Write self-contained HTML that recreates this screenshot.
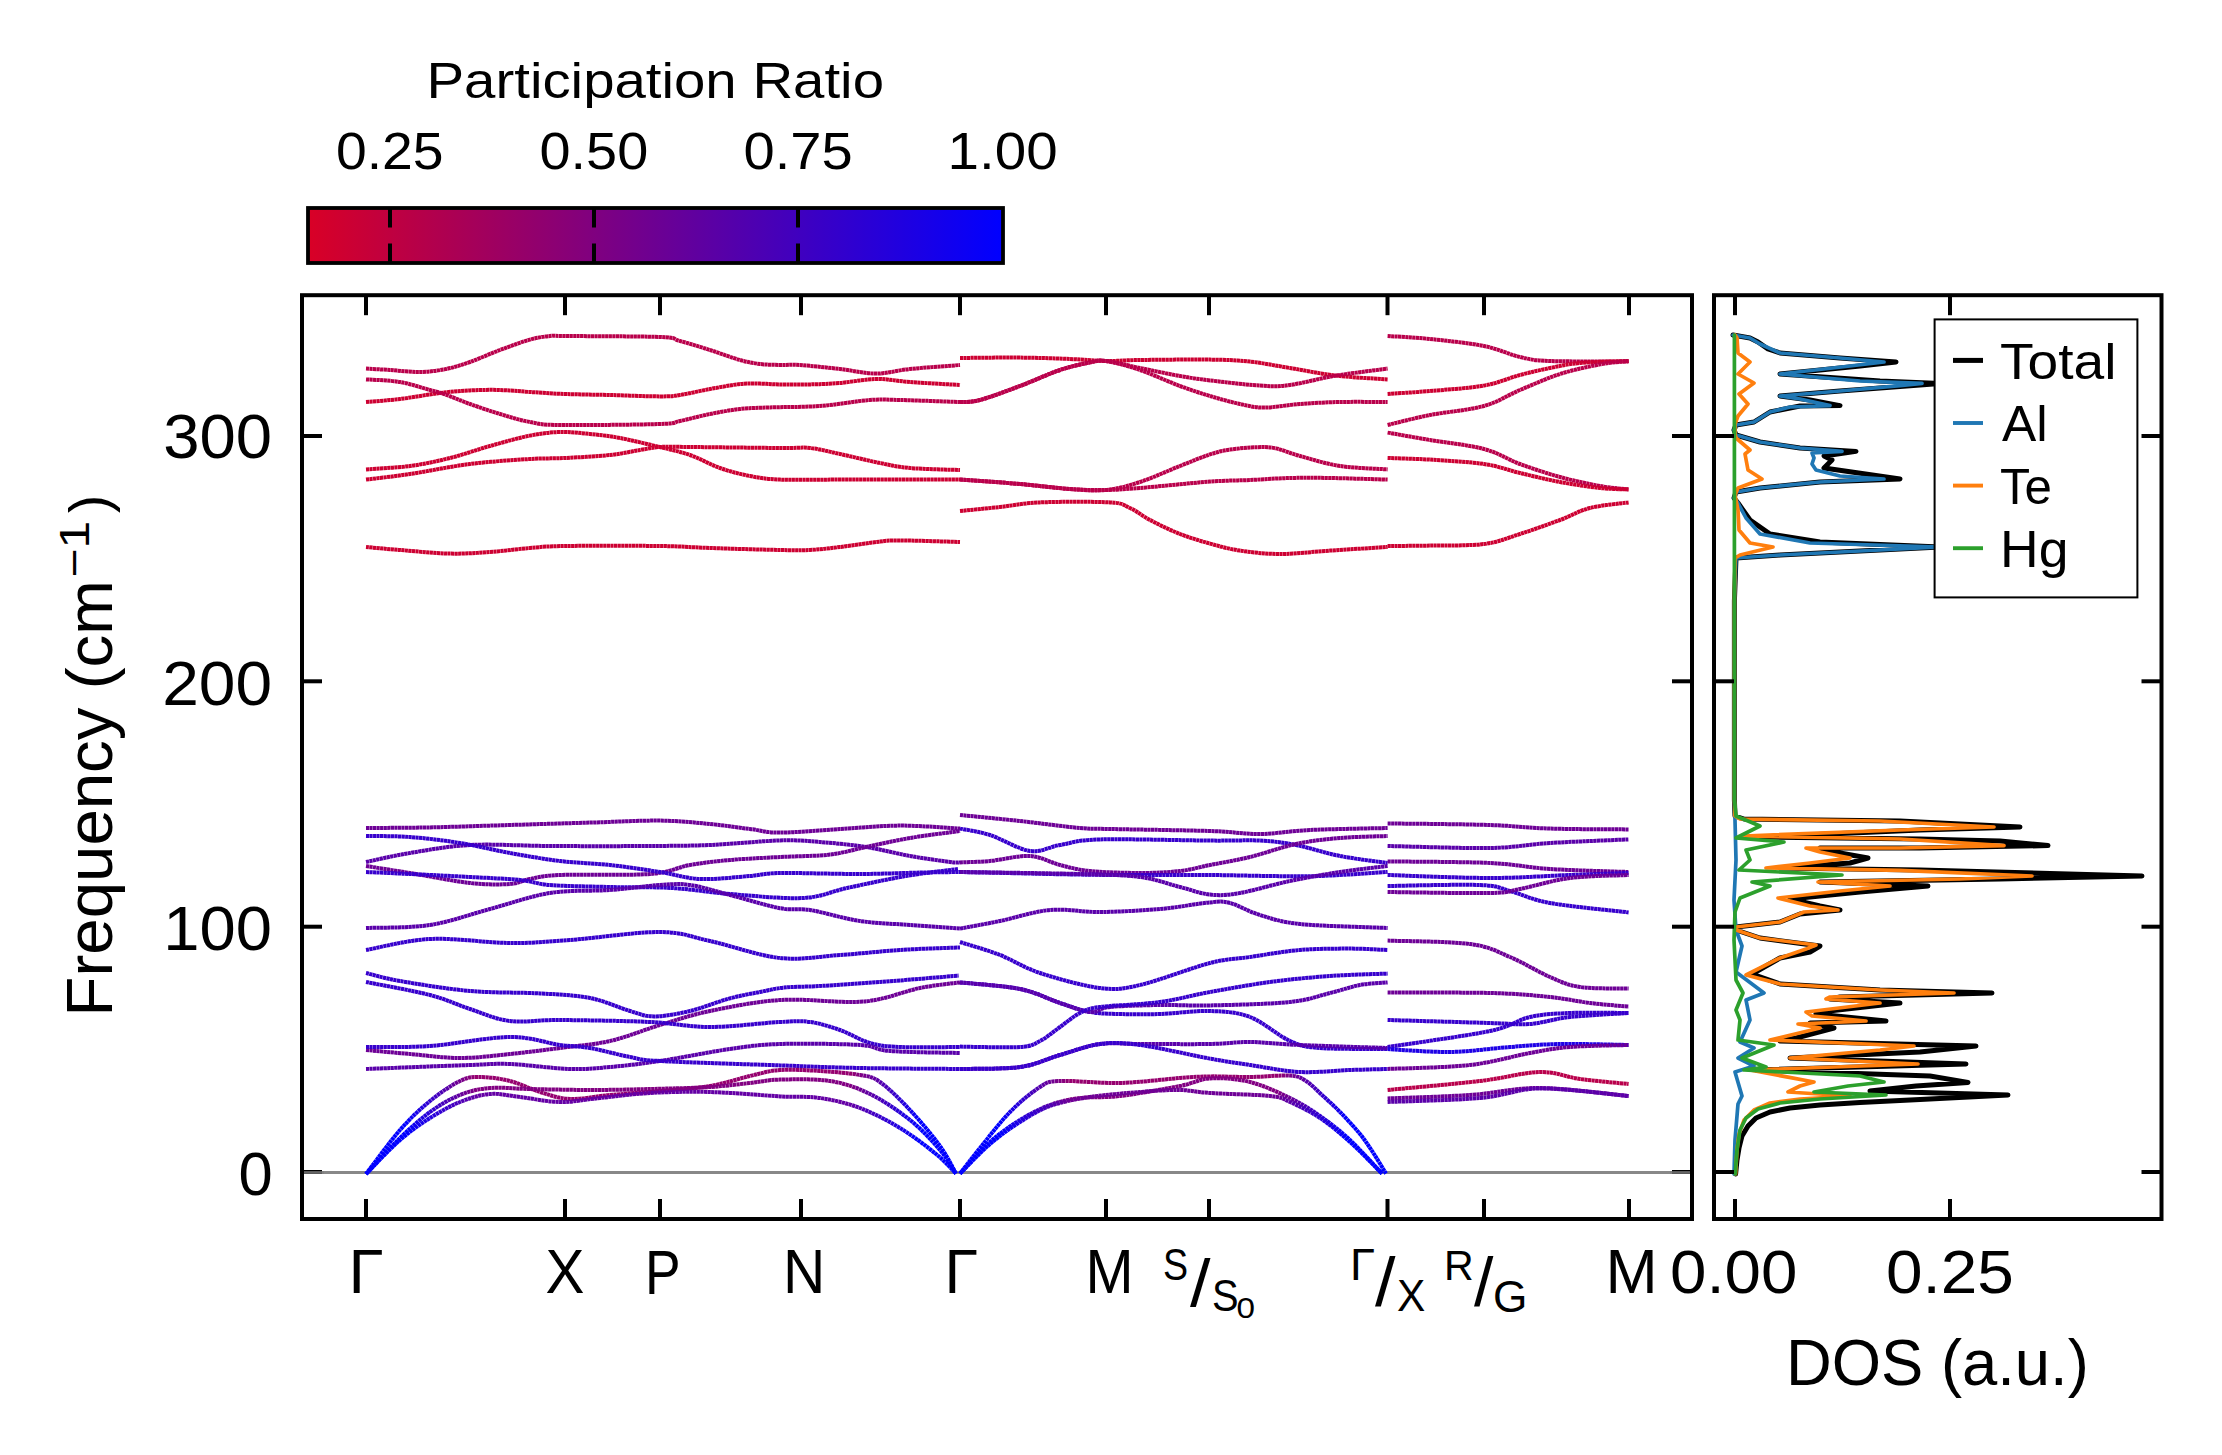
<!DOCTYPE html><html><head><meta charset="utf-8"><style>html,body{margin:0;padding:0;background:#fff;width:2222px;height:1455px;overflow:hidden}svg{display:block}</style></head><body>
<svg width="2222" height="1455" viewBox="0 0 2222 1455" font-family='"Liberation Sans", sans-serif'>
<defs><linearGradient id="cb" x1="0" x2="1" y1="0" y2="0"><stop offset="0" stop-color="#d90026"/><stop offset="1" stop-color="#0000ff"/></linearGradient><clipPath id="clipm"><rect x="302" y="295.2" width="1390" height="923.8"/></clipPath></defs>
<rect x="0" y="0" width="2222" height="1455" fill="#fff"/>
<rect x="308" y="208" width="695" height="55" fill="url(#cb)" stroke="#000" stroke-width="3.8"/>
<line x1="390.0" y1="208" x2="390.0" y2="227.5" stroke="#000" stroke-width="4"/>
<line x1="390.0" y1="243.5" x2="390.0" y2="263" stroke="#000" stroke-width="4"/>
<line x1="594.0" y1="208" x2="594.0" y2="227.5" stroke="#000" stroke-width="4"/>
<line x1="594.0" y1="243.5" x2="594.0" y2="263" stroke="#000" stroke-width="4"/>
<line x1="798.0" y1="208" x2="798.0" y2="227.5" stroke="#000" stroke-width="4"/>
<line x1="798.0" y1="243.5" x2="798.0" y2="263" stroke="#000" stroke-width="4"/>
<g clip-path="url(#clipm)">
<line x1="302" y1="1172.5" x2="1692" y2="1172.5" stroke="#888" stroke-width="3"/>
<path d="M366.0 368.6 C370.0 368.8 381.0 369.4 390.0 370.0 C399.0 370.6 410.7 372.2 420.0 372.0 C429.3 371.8 437.7 370.7 446.0 369.0 C454.3 367.3 461.0 365.2 470.0 362.0 C479.0 358.8 490.0 353.7 500.0 350.0 C510.0 346.3 521.7 341.9 530.0 339.6 C538.3 337.3 544.2 336.6 550.0 336.0 C555.8 335.4 546.7 335.8 565.0 336.0 C583.3 336.2 640.8 336.2 660.0 337.0 C679.2 337.8 671.7 338.8 680.0 341.0 C688.3 343.2 700.0 346.8 710.0 350.0 C720.0 353.2 731.7 357.7 740.0 360.0 C748.3 362.3 753.3 363.2 760.0 364.0 C766.7 364.8 773.3 364.8 780.0 365.0 C786.7 365.2 790.0 364.3 800.0 365.0 C810.0 365.7 827.3 367.6 840.0 369.0 C852.7 370.4 864.3 373.6 876.0 373.6 C887.7 373.6 896.0 370.4 910.0 369.0 C924.0 367.6 951.7 365.7 960.0 365.0" fill="none" stroke="rgb(185,0,75)" stroke-width="4" stroke-linecap="butt" stroke-linejoin="round" stroke-dasharray="3.2 0.35"/>
<path d="M366.0 402.0 C371.7 401.5 387.7 400.5 400.0 399.0 C412.3 397.5 428.3 394.4 440.0 393.0 C451.7 391.6 460.0 390.9 470.0 390.4 C480.0 389.9 490.0 389.7 500.0 390.0 C510.0 390.3 519.2 391.3 530.0 392.0 C540.8 392.7 551.7 393.5 565.0 394.0 C578.3 394.5 594.2 394.6 610.0 395.0 C625.8 395.4 648.3 396.4 660.0 396.4 C671.7 396.4 671.7 396.2 680.0 395.0 C688.3 393.8 700.0 390.8 710.0 389.0 C720.0 387.2 731.7 384.9 740.0 384.0 C748.3 383.1 753.3 383.5 760.0 383.6 C766.7 383.7 771.7 384.3 780.0 384.4 C788.3 384.5 800.0 384.6 810.0 384.4 C820.0 384.2 829.0 383.9 840.0 383.0 C851.0 382.1 864.3 379.2 876.0 379.0 C887.7 378.8 896.0 381.0 910.0 382.0 C924.0 383.0 951.7 384.5 960.0 385.0" fill="none" stroke="rgb(205,0,50)" stroke-width="4" stroke-linecap="butt" stroke-linejoin="round" stroke-dasharray="3.2 0.35"/>
<path d="M366.0 379.4 C371.7 379.8 389.3 380.2 400.0 382.0 C410.7 383.8 422.7 388.0 430.0 390.0 C437.3 392.0 437.3 391.7 444.0 394.0 C450.7 396.3 460.7 400.7 470.0 404.0 C479.3 407.3 490.0 411.0 500.0 414.0 C510.0 417.0 520.0 420.2 530.0 422.0 C540.0 423.8 538.3 424.7 560.0 425.0 C581.7 425.3 640.0 424.7 660.0 424.0 C680.0 423.3 671.7 422.7 680.0 421.0 C688.3 419.3 700.0 416.0 710.0 414.0 C720.0 412.0 730.0 410.1 740.0 409.0 C750.0 407.9 756.7 407.9 770.0 407.4 C783.3 406.9 803.3 407.2 820.0 406.0 C836.7 404.8 856.7 401.0 870.0 400.0 C883.3 399.0 885.0 399.7 900.0 400.0 C915.0 400.3 950.0 401.7 960.0 402.0" fill="none" stroke="rgb(185,0,75)" stroke-width="4" stroke-linecap="butt" stroke-linejoin="round" stroke-dasharray="3.2 0.35"/>
<path d="M366.0 469.4 C373.3 468.8 396.0 467.9 410.0 466.0 C424.0 464.1 436.7 461.3 450.0 458.0 C463.3 454.7 476.7 449.7 490.0 446.0 C503.3 442.3 518.3 437.9 530.0 435.6 C541.7 433.3 550.0 432.3 560.0 432.0 C570.0 431.7 580.0 433.0 590.0 434.0 C600.0 435.0 608.4 435.8 620.0 438.0 C631.6 440.2 647.9 444.2 659.6 447.0 C671.3 449.8 679.9 451.5 690.0 455.0 C700.1 458.5 710.0 464.5 720.0 468.0 C730.0 471.5 740.0 474.1 750.0 476.0 C760.0 477.9 765.0 479.0 780.0 479.6 C795.0 480.2 810.0 479.6 840.0 479.6 C870.0 479.6 940.0 479.6 960.0 479.6" fill="none" stroke="rgb(205,0,50)" stroke-width="4" stroke-linecap="butt" stroke-linejoin="round" stroke-dasharray="3.2 0.35"/>
<path d="M366.0 479.6 C373.3 478.7 392.7 476.6 410.0 474.0 C427.3 471.4 450.0 466.5 470.0 464.0 C490.0 461.5 514.2 460.0 530.0 459.0 C545.8 458.0 551.7 458.7 565.0 458.0 C578.3 457.3 597.5 456.3 610.0 455.0 C622.5 453.7 631.7 451.3 640.0 450.0 C648.3 448.7 651.3 447.5 659.6 447.0 C667.9 446.5 669.9 446.8 690.0 447.0 C710.1 447.2 760.0 447.8 780.0 448.0 C800.0 448.2 800.0 447.0 810.0 448.0 C820.0 449.0 828.3 451.5 840.0 454.0 C851.7 456.5 868.3 460.7 880.0 463.0 C891.7 465.3 896.7 466.8 910.0 468.0 C923.3 469.2 951.7 469.7 960.0 470.0" fill="none" stroke="rgb(205,0,50)" stroke-width="4" stroke-linecap="butt" stroke-linejoin="round" stroke-dasharray="3.2 0.35"/>
<path d="M366.0 547.0 C371.7 547.5 386.0 548.9 400.0 550.0 C414.0 551.1 435.0 553.3 450.0 553.6 C465.0 553.9 476.7 552.9 490.0 552.0 C503.3 551.1 517.5 549.0 530.0 548.0 C542.5 547.0 543.4 546.3 565.0 546.0 C586.6 545.7 635.4 545.7 659.6 546.0 C683.8 546.3 689.9 547.3 710.0 548.0 C730.1 548.7 763.3 549.7 780.0 550.0 C796.7 550.3 800.0 550.5 810.0 550.0 C820.0 549.5 828.3 548.4 840.0 547.0 C851.7 545.6 870.0 542.7 880.0 541.6 C890.0 540.5 886.7 540.3 900.0 540.4 C913.3 540.5 950.0 541.7 960.0 542.0" fill="none" stroke="rgb(205,0,50)" stroke-width="4" stroke-linecap="butt" stroke-linejoin="round" stroke-dasharray="3.2 0.35"/>
<path d="M960.0 358.0 C970.0 357.9 1001.7 357.4 1020.0 357.6 C1038.3 357.8 1055.7 358.4 1070.0 359.0 C1084.3 359.6 1094.3 360.8 1106.0 361.0 C1117.7 361.2 1122.7 360.2 1140.0 360.0 C1157.3 359.8 1191.7 359.3 1210.0 359.6 C1228.3 359.9 1236.7 360.2 1250.0 361.6 C1263.3 363.0 1275.7 365.7 1290.0 368.0 C1304.3 370.3 1319.7 373.7 1336.0 375.6 C1352.3 377.5 1379.0 378.8 1387.6 379.4" fill="none" stroke="rgb(205,0,50)" stroke-width="4" stroke-linecap="butt" stroke-linejoin="round" stroke-dasharray="3.2 0.35"/>
<path d="M960.0 402.0 C963.3 401.7 970.0 402.7 980.0 400.0 C990.0 397.3 1006.7 391.0 1020.0 386.0 C1033.3 381.0 1048.3 373.9 1060.0 370.0 C1071.7 366.1 1082.3 363.9 1090.0 362.4 C1097.7 360.9 1097.7 360.1 1106.0 361.0 C1114.3 361.9 1127.7 365.5 1140.0 368.0 C1152.3 370.5 1168.3 373.9 1180.0 376.0 C1191.7 378.1 1196.7 378.8 1210.0 380.4 C1223.3 382.0 1246.7 384.8 1260.0 385.6 C1273.3 386.4 1277.3 386.7 1290.0 385.0 C1302.7 383.3 1319.7 378.3 1336.0 375.6 C1352.3 372.9 1379.0 369.8 1387.6 368.6" fill="none" stroke="rgb(185,0,75)" stroke-width="4" stroke-linecap="butt" stroke-linejoin="round" stroke-dasharray="3.2 0.35"/>
<path d="M960.0 402.0 C963.3 401.7 970.0 402.7 980.0 400.0 C990.0 397.3 1006.7 391.0 1020.0 386.0 C1033.3 381.0 1048.3 373.9 1060.0 370.0 C1071.7 366.1 1082.3 363.9 1090.0 362.4 C1097.7 360.9 1097.7 359.7 1106.0 361.0 C1114.3 362.3 1127.7 365.8 1140.0 370.0 C1152.3 374.2 1168.3 381.7 1180.0 386.0 C1191.7 390.3 1200.0 393.0 1210.0 396.0 C1220.0 399.0 1231.0 402.1 1240.0 404.0 C1249.0 405.9 1254.0 407.6 1264.0 407.6 C1274.0 407.6 1287.3 404.9 1300.0 404.0 C1312.7 403.1 1325.4 402.3 1340.0 402.0 C1354.6 401.7 1379.7 402.0 1387.6 402.0" fill="none" stroke="rgb(185,0,75)" stroke-width="4" stroke-linecap="butt" stroke-linejoin="round" stroke-dasharray="3.2 0.35"/>
<path d="M960.0 479.6 C970.0 480.3 1001.7 482.4 1020.0 484.0 C1038.3 485.6 1055.7 488.0 1070.0 489.0 C1084.3 490.0 1094.3 491.2 1106.0 490.0 C1117.7 488.8 1127.7 486.0 1140.0 482.0 C1152.3 478.0 1168.3 470.6 1180.0 466.0 C1191.7 461.4 1201.7 457.1 1210.0 454.4 C1218.3 451.7 1222.2 450.8 1230.0 449.6 C1237.8 448.4 1249.3 447.4 1257.0 447.2 C1264.7 447.0 1268.8 446.9 1276.0 448.4 C1283.2 449.9 1289.3 453.1 1300.0 456.0 C1310.7 458.9 1325.4 463.8 1340.0 466.0 C1354.6 468.2 1379.7 468.8 1387.6 469.4" fill="none" stroke="rgb(185,0,75)" stroke-width="4" stroke-linecap="butt" stroke-linejoin="round" stroke-dasharray="3.2 0.35"/>
<path d="M960.0 479.6 C970.0 480.3 1001.7 482.4 1020.0 484.0 C1038.3 485.6 1055.7 488.0 1070.0 489.0 C1084.3 490.0 1094.3 490.2 1106.0 490.0 C1117.7 489.8 1122.7 489.4 1140.0 488.0 C1157.3 486.6 1191.7 482.9 1210.0 481.6 C1228.3 480.3 1236.7 480.6 1250.0 480.0 C1263.3 479.4 1276.7 478.3 1290.0 478.0 C1303.3 477.7 1313.7 477.7 1330.0 478.0 C1346.3 478.3 1378.0 479.3 1387.6 479.6" fill="none" stroke="rgb(185,0,75)" stroke-width="4" stroke-linecap="butt" stroke-linejoin="round" stroke-dasharray="3.2 0.35"/>
<path d="M960.0 511.0 C966.7 510.3 986.7 508.4 1000.0 507.0 C1013.3 505.6 1021.7 503.2 1040.0 502.4 C1058.3 501.6 1095.0 501.5 1110.0 502.4 C1125.0 503.3 1123.3 505.1 1130.0 508.0 C1136.7 510.9 1141.7 515.7 1150.0 520.0 C1158.3 524.3 1170.0 530.1 1180.0 534.0 C1190.0 537.9 1200.0 540.8 1210.0 543.6 C1220.0 546.4 1228.3 548.9 1240.0 550.6 C1251.7 552.3 1265.0 554.0 1280.0 554.0 C1295.0 554.0 1312.1 551.8 1330.0 550.6 C1347.9 549.4 1378.0 547.6 1387.6 547.0" fill="none" stroke="rgb(205,0,50)" stroke-width="4" stroke-linecap="butt" stroke-linejoin="round" stroke-dasharray="3.2 0.35"/>
<path d="M1387.6 336.0 C1394.7 336.5 1413.9 337.3 1430.0 339.0 C1446.1 340.7 1469.0 343.0 1484.0 346.0 C1499.0 349.0 1509.0 354.5 1520.0 357.0 C1531.0 359.5 1531.9 360.3 1550.0 361.0 C1568.1 361.7 1615.5 361.3 1628.6 361.4" fill="none" stroke="rgb(185,0,75)" stroke-width="4" stroke-linecap="butt" stroke-linejoin="round" stroke-dasharray="3.2 0.35"/>
<path d="M1387.6 394.0 C1394.7 393.5 1413.9 392.4 1430.0 391.0 C1446.1 389.6 1469.0 388.3 1484.0 385.6 C1499.0 382.9 1509.0 377.9 1520.0 375.0 C1531.0 372.1 1540.0 370.0 1550.0 368.0 C1560.0 366.0 1566.9 364.2 1580.0 363.0 C1593.1 361.8 1620.5 361.3 1628.6 361.0" fill="none" stroke="rgb(205,0,50)" stroke-width="4" stroke-linecap="butt" stroke-linejoin="round" stroke-dasharray="3.2 0.35"/>
<path d="M1387.6 425.0 C1394.7 423.3 1413.9 418.2 1430.0 415.0 C1446.1 411.8 1469.0 410.2 1484.0 406.0 C1499.0 401.8 1507.3 395.3 1520.0 390.0 C1532.7 384.7 1546.7 378.3 1560.0 374.0 C1573.3 369.7 1588.6 366.6 1600.0 364.4 C1611.4 362.2 1623.8 361.6 1628.6 361.0" fill="none" stroke="rgb(185,0,75)" stroke-width="4" stroke-linecap="butt" stroke-linejoin="round" stroke-dasharray="3.2 0.35"/>
<path d="M1387.6 432.6 C1394.7 433.8 1413.9 437.3 1430.0 440.0 C1446.1 442.7 1469.0 445.0 1484.0 449.0 C1499.0 453.0 1507.3 459.3 1520.0 464.0 C1532.7 468.7 1546.7 473.3 1560.0 477.0 C1573.3 480.7 1588.6 483.9 1600.0 486.0 C1611.4 488.1 1623.8 488.8 1628.6 489.4" fill="none" stroke="rgb(185,0,75)" stroke-width="4" stroke-linecap="butt" stroke-linejoin="round" stroke-dasharray="3.2 0.35"/>
<path d="M1387.6 458.0 C1394.7 458.3 1413.9 458.6 1430.0 459.6 C1446.1 460.6 1469.0 461.8 1484.0 464.0 C1499.0 466.2 1507.3 470.0 1520.0 473.0 C1532.7 476.0 1546.7 479.5 1560.0 482.0 C1573.3 484.5 1588.6 486.8 1600.0 488.0 C1611.4 489.2 1623.8 489.2 1628.6 489.4" fill="none" stroke="rgb(205,0,50)" stroke-width="4" stroke-linecap="butt" stroke-linejoin="round" stroke-dasharray="3.2 0.35"/>
<path d="M1387.6 546.0 C1394.7 545.9 1413.9 545.9 1430.0 545.6 C1446.1 545.3 1469.0 545.9 1484.0 544.0 C1499.0 542.1 1507.3 538.0 1520.0 534.0 C1532.7 530.0 1548.3 524.3 1560.0 520.0 C1571.7 515.7 1578.6 510.9 1590.0 508.0 C1601.4 505.1 1622.2 503.3 1628.6 502.4" fill="none" stroke="rgb(205,0,50)" stroke-width="4" stroke-linecap="butt" stroke-linejoin="round" stroke-dasharray="3.2 0.35"/>
<path d="M366.0 828.0 C376.7 827.9 406.0 827.9 430.0 827.4 C454.0 826.9 483.3 825.8 510.0 825.0 C536.7 824.2 565.0 823.3 590.0 822.6 C615.0 821.9 640.0 820.4 660.0 820.6 C680.0 820.8 695.0 822.6 710.0 824.0 C725.0 825.4 738.3 827.6 750.0 829.0 C761.7 830.4 765.0 832.6 780.0 832.6 C795.0 832.6 820.0 830.2 840.0 829.0 C860.0 827.8 880.0 825.7 900.0 825.6 C920.0 825.5 950.0 828.1 960.0 828.6" fill="none" stroke="rgb(110,0,150)" stroke-width="4" stroke-linecap="butt" stroke-linejoin="round" stroke-dasharray="3.2 0.35"/>
<path d="M366.0 862.0 C373.3 860.5 392.7 855.8 410.0 853.0 C427.3 850.2 446.7 846.2 470.0 845.0 C493.3 843.8 520.0 845.8 550.0 846.0 C580.0 846.2 623.3 846.2 650.0 846.0 C676.7 845.8 688.3 845.9 710.0 845.0 C731.7 844.1 761.7 840.9 780.0 840.4 C798.3 839.9 805.7 840.9 820.0 842.0 C834.3 843.1 851.0 844.7 866.0 847.0 C881.0 849.3 896.0 853.5 910.0 856.0 C924.0 858.5 941.7 860.9 950.0 862.0 C958.3 863.1 958.3 862.3 960.0 862.4" fill="none" stroke="rgb(90,0,170)" stroke-width="4" stroke-linecap="butt" stroke-linejoin="round" stroke-dasharray="3.2 0.35"/>
<path d="M366.0 866.0 C373.3 867.2 392.7 870.2 410.0 873.0 C427.3 875.8 453.3 881.2 470.0 883.0 C486.7 884.8 500.0 884.7 510.0 884.0 C520.0 883.3 521.7 880.5 530.0 879.0 C538.3 877.5 540.0 875.8 560.0 875.0 C580.0 874.2 628.3 875.7 650.0 874.0 C671.7 872.3 676.7 867.3 690.0 865.0 C703.3 862.7 715.0 861.3 730.0 860.0 C745.0 858.7 763.3 857.9 780.0 857.0 C796.7 856.1 815.7 856.3 830.0 854.6 C844.3 852.9 852.7 849.8 866.0 847.0 C879.3 844.2 894.3 840.7 910.0 838.0 C925.7 835.3 951.7 832.2 960.0 831.0" fill="none" stroke="rgb(110,0,150)" stroke-width="4" stroke-linecap="butt" stroke-linejoin="round" stroke-dasharray="3.2 0.35"/>
<path d="M366.0 836.0 C373.3 836.2 394.3 835.8 410.0 837.0 C425.7 838.2 443.3 840.3 460.0 843.0 C476.7 845.7 493.3 850.0 510.0 853.0 C526.7 856.0 543.3 859.0 560.0 861.0 C576.7 863.0 593.3 863.2 610.0 865.0 C626.7 866.8 645.0 869.7 660.0 872.0 C675.0 874.3 685.0 878.3 700.0 879.0 C715.0 879.7 736.7 877.0 750.0 876.0 C763.3 875.0 761.7 873.3 780.0 873.0 C798.3 872.7 836.7 874.1 860.0 874.0 C883.3 873.9 903.3 872.9 920.0 872.6 C936.7 872.3 953.3 872.1 960.0 872.0" fill="none" stroke="rgb(55,0,205)" stroke-width="4" stroke-linecap="butt" stroke-linejoin="round" stroke-dasharray="3.2 0.35"/>
<path d="M366.0 872.0 C373.3 872.3 392.7 873.2 410.0 874.0 C427.3 874.8 451.7 876.0 470.0 877.0 C488.3 878.0 506.7 878.7 520.0 880.0 C533.3 881.3 535.0 883.8 550.0 885.0 C565.0 886.2 589.7 886.5 610.0 887.0 C630.3 887.5 652.0 886.8 672.0 888.0 C692.0 889.2 708.2 892.3 730.0 894.0 C751.8 895.7 783.5 899.0 803.0 898.0 C822.5 897.0 829.8 891.7 847.0 888.0 C864.2 884.3 887.5 879.2 906.0 876.0 C924.5 872.8 949.3 870.2 958.0 869.0" fill="none" stroke="rgb(55,0,205)" stroke-width="4" stroke-linecap="butt" stroke-linejoin="round" stroke-dasharray="3.2 0.35"/>
<path d="M366.0 928.0 C376.7 927.5 409.3 928.2 430.0 925.0 C450.7 921.8 470.0 914.3 490.0 909.0 C510.0 903.7 530.0 896.2 550.0 893.0 C570.0 889.8 591.7 891.3 610.0 890.0 C628.3 888.7 646.7 885.8 660.0 885.0 C673.3 884.2 678.3 883.3 690.0 885.0 C701.7 886.7 715.0 891.1 730.0 895.0 C745.0 898.9 766.7 905.7 780.0 908.2 C793.3 910.7 796.7 907.9 810.0 910.0 C823.3 912.1 843.3 918.5 860.0 921.0 C876.7 923.5 893.3 923.7 910.0 925.0 C926.7 926.3 951.7 928.0 960.0 928.6" fill="none" stroke="rgb(90,0,170)" stroke-width="4" stroke-linecap="butt" stroke-linejoin="round" stroke-dasharray="3.2 0.35"/>
<path d="M366.0 950.0 C376.7 948.2 406.0 940.2 430.0 939.0 C454.0 937.8 486.7 942.8 510.0 943.0 C533.3 943.2 545.0 941.8 570.0 940.0 C595.0 938.2 636.7 931.8 660.0 932.0 C683.3 932.2 690.0 936.7 710.0 941.0 C730.0 945.3 758.3 955.7 780.0 958.0 C801.7 960.3 820.0 956.3 840.0 955.0 C860.0 953.7 880.0 951.3 900.0 950.0 C920.0 948.7 950.0 947.8 960.0 947.4" fill="none" stroke="rgb(55,0,205)" stroke-width="4" stroke-linecap="butt" stroke-linejoin="round" stroke-dasharray="3.2 0.35"/>
<path d="M366.0 973.0 C371.7 974.3 382.7 978.0 400.0 981.0 C417.3 984.0 446.7 988.9 470.0 991.0 C493.3 993.1 520.0 992.2 540.0 993.4 C560.0 994.6 575.0 995.1 590.0 998.0 C605.0 1000.9 619.3 1007.9 630.0 1011.0 C640.7 1014.1 644.0 1016.4 654.0 1016.4 C664.0 1016.4 677.5 1014.0 690.0 1011.0 C702.5 1008.0 717.3 1001.8 729.0 998.6 C740.7 995.4 750.8 993.8 760.0 992.0 C769.2 990.2 774.0 988.6 784.0 987.6 C794.0 986.6 804.0 986.9 820.0 986.0 C836.0 985.1 856.9 983.7 880.0 982.0 C903.1 980.3 945.5 976.7 958.6 975.6" fill="none" stroke="rgb(55,0,205)" stroke-width="4" stroke-linecap="butt" stroke-linejoin="round" stroke-dasharray="3.2 0.35"/>
<path d="M366.0 1050.0 C373.3 1050.7 394.3 1052.7 410.0 1054.0 C425.7 1055.3 443.3 1058.0 460.0 1058.0 C476.7 1058.0 493.3 1055.7 510.0 1054.0 C526.7 1052.3 543.3 1050.2 560.0 1048.0 C576.7 1045.8 593.3 1044.8 610.0 1041.0 C626.7 1037.2 643.3 1030.0 660.0 1025.0 C676.7 1020.0 690.0 1015.2 710.0 1011.0 C730.0 1006.8 756.7 1001.5 780.0 1000.0 C803.3 998.5 833.3 1002.2 850.0 1002.0 C866.7 1001.8 868.3 1001.3 880.0 999.0 C891.7 996.7 906.7 990.8 920.0 988.0 C933.3 985.2 953.3 983.3 960.0 982.4" fill="none" stroke="rgb(110,0,150)" stroke-width="4" stroke-linecap="butt" stroke-linejoin="round" stroke-dasharray="3.2 0.35"/>
<path d="M366.0 982.0 C376.7 984.2 412.7 990.5 430.0 995.0 C447.3 999.5 456.7 1004.7 470.0 1009.0 C483.3 1013.3 495.0 1019.2 510.0 1021.0 C525.0 1022.8 536.7 1019.8 560.0 1020.0 C583.3 1020.2 625.0 1020.8 650.0 1022.0 C675.0 1023.2 688.3 1027.0 710.0 1027.0 C731.7 1027.0 763.3 1022.8 780.0 1022.0 C796.7 1021.2 800.0 1020.7 810.0 1022.0 C820.0 1023.3 830.0 1026.5 840.0 1030.0 C850.0 1033.5 860.0 1040.2 870.0 1043.0 C880.0 1045.8 885.0 1046.3 900.0 1047.0 C915.0 1047.7 950.0 1047.0 960.0 1047.0" fill="none" stroke="rgb(55,0,205)" stroke-width="4" stroke-linecap="butt" stroke-linejoin="round" stroke-dasharray="3.2 0.35"/>
<path d="M366.0 1069.0 C383.3 1068.3 446.0 1065.8 470.0 1065.0 C494.0 1064.2 493.3 1063.3 510.0 1064.0 C526.7 1064.7 553.3 1068.5 570.0 1069.0 C586.7 1069.5 595.0 1068.3 610.0 1067.0 C625.0 1065.7 640.0 1064.0 660.0 1061.0 C680.0 1058.0 710.0 1051.8 730.0 1049.0 C750.0 1046.2 758.3 1044.7 780.0 1044.0 C801.7 1043.3 841.7 1043.8 860.0 1045.0 C878.3 1046.2 873.3 1049.7 890.0 1051.0 C906.7 1052.3 948.3 1052.7 960.0 1053.0" fill="none" stroke="rgb(90,0,170)" stroke-width="4" stroke-linecap="butt" stroke-linejoin="round" stroke-dasharray="3.2 0.35"/>
<path d="M366.0 1047.0 C376.7 1046.8 406.0 1047.7 430.0 1046.0 C454.0 1044.3 488.3 1037.2 510.0 1037.0 C531.7 1036.8 546.7 1043.2 560.0 1045.0 C573.3 1046.8 578.3 1046.0 590.0 1048.0 C601.7 1050.0 618.3 1054.8 630.0 1057.0 C641.7 1059.2 635.0 1059.6 660.0 1061.0 C685.0 1062.4 746.7 1064.2 780.0 1065.4 C813.3 1066.6 830.0 1067.4 860.0 1068.0 C890.0 1068.6 943.3 1068.8 960.0 1069.0" fill="none" stroke="rgb(55,0,205)" stroke-width="4" stroke-linecap="butt" stroke-linejoin="round" stroke-dasharray="3.2 0.35"/>
<defs><linearGradient id="g1" gradientUnits="userSpaceOnUse" x1="366.0" y1="0" x2="960.0" y2="0"><stop offset="0" stop-color="#0000ff"/><stop offset="0.067" stop-color="#0000ff"/><stop offset="0.185" stop-color="rgb(150,0,110)"/><stop offset="0.815" stop-color="rgb(150,0,110)"/><stop offset="0.933" stop-color="#0000ff"/><stop offset="1" stop-color="#0000ff"/></linearGradient></defs>
<path d="M366.0 1174.0 C371.7 1166.7 389.3 1142.2 400.0 1130.0 C410.7 1117.8 420.0 1109.2 430.0 1101.0 C440.0 1092.8 451.7 1085.0 460.0 1081.0 C468.3 1077.0 471.7 1077.0 480.0 1077.0 C488.3 1077.0 500.0 1078.5 510.0 1081.0 C520.0 1083.5 530.0 1089.0 540.0 1092.0 C550.0 1095.0 558.3 1098.5 570.0 1099.0 C581.7 1099.5 595.0 1096.3 610.0 1095.0 C625.0 1093.7 643.3 1092.5 660.0 1091.0 C676.7 1089.5 695.0 1088.5 710.0 1086.0 C725.0 1083.5 738.3 1078.7 750.0 1076.0 C761.7 1073.3 768.3 1070.8 780.0 1070.0 C791.7 1069.2 806.7 1070.2 820.0 1071.0 C833.3 1071.8 850.0 1073.2 860.0 1075.0 C870.0 1076.8 871.7 1076.2 880.0 1082.0 C888.3 1087.8 900.0 1099.3 910.0 1110.0 C920.0 1120.7 932.3 1135.4 940.0 1146.0 C947.7 1156.6 953.3 1169.0 956.0 1173.6" fill="none" stroke="url(#g1)" stroke-width="4" stroke-linecap="butt" stroke-linejoin="round" stroke-dasharray="3.2 0.35"/>
<defs><linearGradient id="g2" gradientUnits="userSpaceOnUse" x1="366.0" y1="0" x2="960.0" y2="0"><stop offset="0" stop-color="#0000ff"/><stop offset="0.067" stop-color="#0000ff"/><stop offset="0.185" stop-color="rgb(130,0,130)"/><stop offset="0.815" stop-color="rgb(130,0,130)"/><stop offset="0.933" stop-color="#0000ff"/><stop offset="1" stop-color="#0000ff"/></linearGradient></defs>
<path d="M366.0 1174.0 C371.7 1168.0 389.3 1148.3 400.0 1138.0 C410.7 1127.7 420.0 1119.2 430.0 1112.0 C440.0 1104.8 450.0 1099.0 460.0 1095.0 C470.0 1091.0 478.3 1089.0 490.0 1088.0 C501.7 1087.0 513.3 1088.7 530.0 1089.0 C546.7 1089.3 570.0 1090.0 590.0 1090.0 C610.0 1090.0 630.0 1089.5 650.0 1089.0 C670.0 1088.5 693.3 1088.0 710.0 1087.0 C726.7 1086.0 738.3 1084.2 750.0 1083.0 C761.7 1081.8 766.7 1079.9 780.0 1079.6 C793.3 1079.3 815.0 1078.6 830.0 1081.0 C845.0 1083.4 856.7 1087.5 870.0 1094.0 C883.3 1100.5 898.3 1110.7 910.0 1120.0 C921.7 1129.3 932.3 1141.1 940.0 1150.0 C947.7 1158.9 953.3 1169.7 956.0 1173.6" fill="none" stroke="url(#g2)" stroke-width="4" stroke-linecap="butt" stroke-linejoin="round" stroke-dasharray="3.2 0.35"/>
<defs><linearGradient id="g3" gradientUnits="userSpaceOnUse" x1="366.0" y1="0" x2="960.0" y2="0"><stop offset="0" stop-color="#0000ff"/><stop offset="0.067" stop-color="#0000ff"/><stop offset="0.185" stop-color="rgb(100,0,165)"/><stop offset="0.815" stop-color="rgb(100,0,165)"/><stop offset="0.933" stop-color="#0000ff"/><stop offset="1" stop-color="#0000ff"/></linearGradient></defs>
<path d="M366.0 1174.0 C371.7 1168.3 389.3 1149.3 400.0 1140.0 C410.7 1130.7 420.0 1124.3 430.0 1118.0 C440.0 1111.7 450.0 1106.0 460.0 1102.0 C470.0 1098.0 480.0 1094.8 490.0 1094.0 C500.0 1093.2 508.3 1095.7 520.0 1097.0 C531.7 1098.3 546.7 1101.8 560.0 1102.0 C573.3 1102.2 585.0 1099.5 600.0 1098.0 C615.0 1096.5 631.7 1094.0 650.0 1093.0 C668.3 1092.0 688.3 1091.4 710.0 1092.0 C731.7 1092.6 761.7 1095.4 780.0 1096.4 C798.3 1097.4 806.7 1096.1 820.0 1098.0 C833.3 1099.9 846.7 1103.0 860.0 1108.0 C873.3 1113.0 887.3 1120.3 900.0 1128.0 C912.7 1135.7 926.7 1146.4 936.0 1154.0 C945.3 1161.6 952.7 1170.3 956.0 1173.6" fill="none" stroke="url(#g3)" stroke-width="4" stroke-linecap="butt" stroke-linejoin="round" stroke-dasharray="3.2 0.35"/>
<path d="M960.0 815.0 C970.0 816.0 1000.0 818.8 1020.0 821.0 C1040.0 823.2 1065.0 826.7 1080.0 828.0 C1095.0 829.3 1088.3 828.5 1110.0 829.0 C1131.7 829.5 1185.0 830.2 1210.0 831.0 C1235.0 831.8 1243.3 834.2 1260.0 834.0 C1276.7 833.8 1288.7 831.0 1310.0 830.0 C1331.3 829.0 1374.7 828.3 1387.6 828.0" fill="none" stroke="rgb(110,0,150)" stroke-width="4" stroke-linecap="butt" stroke-linejoin="round" stroke-dasharray="3.2 0.35"/>
<path d="M960.0 828.6 C965.0 829.7 978.3 831.3 990.0 835.0 C1001.7 838.7 1018.3 849.3 1030.0 851.0 C1041.7 852.7 1048.3 846.9 1060.0 845.0 C1071.7 843.1 1075.0 840.1 1100.0 839.4 C1125.0 838.7 1183.3 840.4 1210.0 840.6 C1236.7 840.8 1245.7 839.9 1260.0 840.6 C1274.3 841.3 1282.7 842.4 1296.0 845.0 C1309.3 847.6 1324.7 853.0 1340.0 856.0 C1355.3 859.0 1379.7 861.8 1387.6 863.0" fill="none" stroke="rgb(55,0,205)" stroke-width="4" stroke-linecap="butt" stroke-linejoin="round" stroke-dasharray="3.2 0.35"/>
<path d="M960.0 862.4 C965.0 862.2 978.3 862.1 990.0 861.0 C1001.7 859.9 1018.3 855.3 1030.0 856.0 C1041.7 856.7 1050.0 862.5 1060.0 865.0 C1070.0 867.5 1076.7 869.7 1090.0 871.0 C1103.3 872.3 1125.0 873.0 1140.0 873.0 C1155.0 873.0 1168.3 872.3 1180.0 871.0 C1191.7 869.7 1198.3 867.3 1210.0 865.0 C1221.7 862.7 1235.7 860.5 1250.0 857.0 C1264.3 853.5 1281.0 847.2 1296.0 844.0 C1311.0 840.8 1324.7 839.3 1340.0 838.0 C1355.3 836.7 1379.7 836.3 1387.6 836.0" fill="none" stroke="rgb(110,0,150)" stroke-width="4" stroke-linecap="butt" stroke-linejoin="round" stroke-dasharray="3.2 0.35"/>
<path d="M960.0 872.0 C980.0 872.4 1050.0 874.1 1080.0 874.6 C1110.0 875.1 1118.3 874.9 1140.0 875.0 C1161.7 875.1 1188.3 874.8 1210.0 875.0 C1231.7 875.2 1251.7 875.8 1270.0 876.0 C1288.3 876.2 1300.4 876.7 1320.0 876.0 C1339.6 875.3 1376.3 872.7 1387.6 872.0" fill="none" stroke="rgb(55,0,205)" stroke-width="4" stroke-linecap="butt" stroke-linejoin="round" stroke-dasharray="3.2 0.35"/>
<path d="M960.0 872.0 C980.0 872.3 1050.0 873.2 1080.0 874.0 C1110.0 874.8 1123.3 874.8 1140.0 877.0 C1156.7 879.2 1168.3 884.1 1180.0 887.0 C1191.7 889.9 1200.0 893.6 1210.0 894.6 C1220.0 895.6 1226.7 895.3 1240.0 893.0 C1253.3 890.7 1273.3 884.5 1290.0 881.0 C1306.7 877.5 1323.7 874.5 1340.0 872.0 C1356.3 869.5 1379.7 867.0 1387.6 866.0" fill="none" stroke="rgb(90,0,170)" stroke-width="4" stroke-linecap="butt" stroke-linejoin="round" stroke-dasharray="3.2 0.35"/>
<path d="M960.0 928.6 C966.7 927.3 985.0 924.1 1000.0 921.0 C1015.0 917.9 1033.3 911.5 1050.0 910.0 C1066.7 908.5 1081.7 912.2 1100.0 912.0 C1118.3 911.8 1141.7 910.6 1160.0 909.0 C1178.3 907.4 1198.3 903.4 1210.0 902.4 C1221.7 901.4 1221.7 900.9 1230.0 903.0 C1238.3 905.1 1248.3 911.5 1260.0 915.0 C1271.7 918.5 1278.7 921.8 1300.0 924.0 C1321.3 926.2 1373.0 927.3 1387.6 928.0" fill="none" stroke="rgb(90,0,170)" stroke-width="4" stroke-linecap="butt" stroke-linejoin="round" stroke-dasharray="3.2 0.35"/>
<path d="M960.0 942.0 C966.7 944.2 986.7 949.8 1000.0 955.0 C1013.3 960.2 1023.3 967.5 1040.0 973.0 C1056.7 978.5 1083.3 986.0 1100.0 988.0 C1116.7 990.0 1121.7 989.2 1140.0 985.0 C1158.3 980.8 1191.7 967.7 1210.0 963.0 C1228.3 958.3 1235.0 959.2 1250.0 957.0 C1265.0 954.8 1283.3 951.4 1300.0 950.0 C1316.7 948.6 1335.4 948.6 1350.0 948.6 C1364.6 948.6 1381.3 949.8 1387.6 950.0" fill="none" stroke="rgb(55,0,205)" stroke-width="4" stroke-linecap="butt" stroke-linejoin="round" stroke-dasharray="3.2 0.35"/>
<path d="M960.0 982.4 C970.0 983.5 1003.3 985.6 1020.0 989.0 C1036.7 992.4 1048.3 999.2 1060.0 1003.0 C1071.7 1006.8 1080.0 1010.2 1090.0 1012.0 C1100.0 1013.8 1108.3 1013.7 1120.0 1014.0 C1131.7 1014.3 1145.0 1014.5 1160.0 1014.0 C1175.0 1013.5 1195.0 1010.5 1210.0 1011.0 C1225.0 1011.5 1236.7 1012.0 1250.0 1017.0 C1263.3 1022.0 1278.3 1035.8 1290.0 1041.0 C1301.7 1046.2 1303.7 1046.7 1320.0 1048.0 C1336.3 1049.3 1376.3 1048.8 1387.6 1049.0" fill="none" stroke="rgb(55,0,205)" stroke-width="4" stroke-linecap="butt" stroke-linejoin="round" stroke-dasharray="3.2 0.35"/>
<path d="M960.0 982.4 C970.0 983.5 1003.3 985.6 1020.0 989.0 C1036.7 992.4 1048.3 999.2 1060.0 1003.0 C1071.7 1006.8 1081.7 1011.3 1090.0 1012.0 C1098.3 1012.7 1098.3 1008.2 1110.0 1007.0 C1121.7 1005.8 1143.3 1005.3 1160.0 1005.0 C1176.7 1004.7 1188.3 1005.9 1210.0 1005.4 C1231.7 1004.9 1270.0 1004.1 1290.0 1002.0 C1310.0 999.9 1318.3 995.8 1330.0 993.0 C1341.7 990.2 1350.4 986.8 1360.0 985.0 C1369.6 983.2 1383.0 982.8 1387.6 982.4" fill="none" stroke="rgb(90,0,170)" stroke-width="4" stroke-linecap="butt" stroke-linejoin="round" stroke-dasharray="3.2 0.35"/>
<path d="M960.0 1046.6 C970.0 1046.7 1006.7 1047.9 1020.0 1047.0 C1033.3 1046.1 1033.3 1044.3 1040.0 1041.0 C1046.7 1037.7 1053.3 1031.7 1060.0 1027.0 C1066.7 1022.3 1073.3 1016.3 1080.0 1013.0 C1086.7 1009.7 1086.7 1008.8 1100.0 1007.0 C1113.3 1005.2 1141.7 1004.5 1160.0 1002.0 C1178.3 999.5 1191.7 995.3 1210.0 992.0 C1228.3 988.7 1250.0 984.7 1270.0 982.0 C1290.0 979.3 1310.4 977.4 1330.0 976.0 C1349.6 974.6 1378.0 974.0 1387.6 973.6" fill="none" stroke="rgb(55,0,205)" stroke-width="4" stroke-linecap="butt" stroke-linejoin="round" stroke-dasharray="3.2 0.35"/>
<path d="M960.0 1069.0 C970.0 1068.7 1003.3 1069.3 1020.0 1067.0 C1036.7 1064.7 1046.7 1058.8 1060.0 1055.0 C1073.3 1051.2 1086.7 1045.8 1100.0 1044.0 C1113.3 1042.2 1121.7 1044.0 1140.0 1044.0 C1158.3 1044.0 1191.7 1044.3 1210.0 1044.0 C1228.3 1043.7 1235.0 1041.8 1250.0 1042.0 C1265.0 1042.2 1277.1 1044.0 1300.0 1045.0 C1322.9 1046.0 1373.0 1047.5 1387.6 1048.0" fill="none" stroke="rgb(90,0,170)" stroke-width="4" stroke-linecap="butt" stroke-linejoin="round" stroke-dasharray="3.2 0.35"/>
<path d="M960.0 1069.0 C970.0 1068.7 1003.3 1069.3 1020.0 1067.0 C1036.7 1064.7 1046.7 1058.8 1060.0 1055.0 C1073.3 1051.2 1086.7 1045.7 1100.0 1044.0 C1113.3 1042.3 1121.7 1042.6 1140.0 1045.0 C1158.3 1047.4 1191.7 1055.3 1210.0 1058.6 C1228.3 1061.9 1235.0 1062.8 1250.0 1065.0 C1265.0 1067.2 1283.3 1071.2 1300.0 1072.0 C1316.7 1072.8 1335.4 1070.5 1350.0 1070.0 C1364.6 1069.5 1381.3 1069.2 1387.6 1069.0" fill="none" stroke="rgb(55,0,205)" stroke-width="4" stroke-linecap="butt" stroke-linejoin="round" stroke-dasharray="3.2 0.35"/>
<defs><linearGradient id="g4" gradientUnits="userSpaceOnUse" x1="960.0" y1="0" x2="1387.5" y2="0"><stop offset="0" stop-color="#0000ff"/><stop offset="0.094" stop-color="#0000ff"/><stop offset="0.257" stop-color="rgb(150,0,110)"/><stop offset="0.743" stop-color="rgb(150,0,110)"/><stop offset="0.906" stop-color="#0000ff"/><stop offset="1" stop-color="#0000ff"/></linearGradient></defs>
<path d="M960.0 1173.6 C963.3 1169.3 971.7 1158.3 980.0 1148.0 C988.3 1137.7 1000.0 1122.2 1010.0 1112.0 C1020.0 1101.8 1031.7 1092.2 1040.0 1087.0 C1048.3 1081.8 1046.7 1081.7 1060.0 1081.0 C1073.3 1080.3 1100.0 1083.5 1120.0 1083.0 C1140.0 1082.5 1165.0 1079.1 1180.0 1078.0 C1195.0 1076.9 1198.3 1076.6 1210.0 1076.4 C1221.7 1076.2 1236.7 1077.1 1250.0 1077.0 C1263.3 1076.9 1280.7 1074.9 1290.0 1075.6 C1299.3 1076.3 1300.7 1077.8 1306.0 1081.0 C1311.3 1084.2 1316.3 1089.8 1322.0 1095.0 C1327.7 1100.2 1333.7 1105.5 1340.0 1112.0 C1346.3 1118.5 1354.3 1127.0 1360.0 1134.0 C1365.7 1141.0 1369.7 1147.4 1374.0 1154.0 C1378.3 1160.6 1384.0 1170.3 1386.0 1173.6" fill="none" stroke="url(#g4)" stroke-width="4" stroke-linecap="butt" stroke-linejoin="round" stroke-dasharray="3.2 0.35"/>
<defs><linearGradient id="g5" gradientUnits="userSpaceOnUse" x1="960.0" y1="0" x2="1387.5" y2="0"><stop offset="0" stop-color="#0000ff"/><stop offset="0.094" stop-color="#0000ff"/><stop offset="0.257" stop-color="rgb(130,0,130)"/><stop offset="0.743" stop-color="rgb(130,0,130)"/><stop offset="0.906" stop-color="#0000ff"/><stop offset="1" stop-color="#0000ff"/></linearGradient></defs>
<path d="M960.0 1173.6 C965.0 1168.3 980.0 1150.9 990.0 1142.0 C1000.0 1133.1 1010.0 1126.2 1020.0 1120.0 C1030.0 1113.8 1040.0 1108.7 1050.0 1105.0 C1060.0 1101.3 1068.3 1099.5 1080.0 1098.0 C1091.7 1096.5 1103.3 1098.0 1120.0 1096.0 C1136.7 1094.0 1165.0 1088.9 1180.0 1086.0 C1195.0 1083.1 1198.3 1079.1 1210.0 1078.4 C1221.7 1077.7 1236.7 1078.7 1250.0 1082.0 C1263.3 1085.3 1278.3 1092.3 1290.0 1098.0 C1301.7 1103.7 1310.0 1109.0 1320.0 1116.0 C1330.0 1123.0 1339.7 1130.4 1350.0 1140.0 C1360.3 1149.6 1376.7 1168.0 1382.0 1173.6" fill="none" stroke="url(#g5)" stroke-width="4" stroke-linecap="butt" stroke-linejoin="round" stroke-dasharray="3.2 0.35"/>
<defs><linearGradient id="g6" gradientUnits="userSpaceOnUse" x1="960.0" y1="0" x2="1387.5" y2="0"><stop offset="0" stop-color="#0000ff"/><stop offset="0.094" stop-color="#0000ff"/><stop offset="0.257" stop-color="rgb(110,0,150)"/><stop offset="0.743" stop-color="rgb(110,0,150)"/><stop offset="0.906" stop-color="#0000ff"/><stop offset="1" stop-color="#0000ff"/></linearGradient></defs>
<path d="M960.0 1173.6 C965.0 1168.7 980.0 1152.6 990.0 1144.0 C1000.0 1135.4 1010.0 1128.3 1020.0 1122.0 C1030.0 1115.7 1038.3 1110.2 1050.0 1106.0 C1061.7 1101.8 1075.0 1099.3 1090.0 1097.0 C1105.0 1094.7 1125.0 1093.2 1140.0 1092.0 C1155.0 1090.8 1168.3 1089.8 1180.0 1090.0 C1191.7 1090.2 1195.0 1092.0 1210.0 1093.0 C1225.0 1094.0 1256.7 1094.5 1270.0 1096.0 C1283.3 1097.5 1281.7 1098.3 1290.0 1102.0 C1298.3 1105.7 1310.0 1111.3 1320.0 1118.0 C1330.0 1124.7 1339.7 1132.7 1350.0 1142.0 C1360.3 1151.3 1376.7 1168.3 1382.0 1173.6" fill="none" stroke="url(#g6)" stroke-width="4" stroke-linecap="butt" stroke-linejoin="round" stroke-dasharray="3.2 0.35"/>
<path d="M1387.6 823.4 C1404.7 823.7 1462.9 824.1 1490.0 825.0 C1517.1 825.9 1526.9 827.9 1550.0 828.6 C1573.1 829.3 1615.5 829.3 1628.6 829.4" fill="none" stroke="rgb(110,0,150)" stroke-width="4" stroke-linecap="butt" stroke-linejoin="round" stroke-dasharray="3.2 0.35"/>
<path d="M1387.6 846.0 C1404.7 846.3 1462.9 848.5 1490.0 848.0 C1517.1 847.5 1526.9 844.4 1550.0 843.0 C1573.1 841.6 1615.5 840.0 1628.6 839.4" fill="none" stroke="rgb(90,0,170)" stroke-width="4" stroke-linecap="butt" stroke-linejoin="round" stroke-dasharray="3.2 0.35"/>
<path d="M1387.6 861.4 C1404.7 861.7 1462.9 861.7 1490.0 863.0 C1517.1 864.3 1526.9 867.5 1550.0 869.0 C1573.1 870.5 1615.5 871.5 1628.6 872.0" fill="none" stroke="rgb(110,0,150)" stroke-width="4" stroke-linecap="butt" stroke-linejoin="round" stroke-dasharray="3.2 0.35"/>
<path d="M1387.6 875.0 C1404.7 875.5 1459.6 878.0 1490.0 878.0 C1520.4 878.0 1546.9 875.8 1570.0 875.0 C1593.1 874.2 1618.8 873.3 1628.6 873.0" fill="none" stroke="rgb(55,0,205)" stroke-width="4" stroke-linecap="butt" stroke-linejoin="round" stroke-dasharray="3.2 0.35"/>
<path d="M1387.6 886.0 C1403.0 885.8 1459.6 884.2 1480.0 885.0 C1500.4 885.8 1498.3 888.0 1510.0 891.0 C1521.7 894.0 1530.2 899.4 1550.0 903.0 C1569.8 906.6 1615.5 910.8 1628.6 912.4" fill="none" stroke="rgb(55,0,205)" stroke-width="4" stroke-linecap="butt" stroke-linejoin="round" stroke-dasharray="3.2 0.35"/>
<path d="M1387.6 892.0 C1404.7 892.2 1467.9 893.5 1490.0 893.0 C1512.1 892.5 1506.7 891.5 1520.0 889.0 C1533.3 886.5 1551.9 880.3 1570.0 878.0 C1588.1 875.7 1618.8 875.5 1628.6 875.0" fill="none" stroke="rgb(110,0,150)" stroke-width="4" stroke-linecap="butt" stroke-linejoin="round" stroke-dasharray="3.2 0.35"/>
<path d="M1387.6 940.6 C1401.3 941.2 1449.6 941.3 1470.0 944.0 C1490.4 946.7 1496.7 951.5 1510.0 957.0 C1523.3 962.5 1538.3 972.0 1550.0 977.0 C1561.7 982.0 1566.9 985.1 1580.0 987.0 C1593.1 988.9 1620.5 988.3 1628.6 988.6" fill="none" stroke="rgb(110,0,150)" stroke-width="4" stroke-linecap="butt" stroke-linejoin="round" stroke-dasharray="3.2 0.35"/>
<path d="M1387.6 992.6 C1404.7 992.7 1462.9 992.3 1490.0 993.0 C1517.1 993.7 1533.3 995.3 1550.0 997.0 C1566.7 998.7 1576.9 1001.4 1590.0 1003.0 C1603.1 1004.6 1622.2 1006.0 1628.6 1006.6" fill="none" stroke="rgb(110,0,150)" stroke-width="4" stroke-linecap="butt" stroke-linejoin="round" stroke-dasharray="3.2 0.35"/>
<path d="M1387.6 1020.0 C1404.7 1020.5 1466.3 1022.3 1490.0 1023.0 C1513.7 1023.7 1516.7 1025.0 1530.0 1024.0 C1543.3 1023.0 1553.6 1018.8 1570.0 1017.0 C1586.4 1015.2 1618.8 1013.7 1628.6 1013.0" fill="none" stroke="rgb(55,0,205)" stroke-width="4" stroke-linecap="butt" stroke-linejoin="round" stroke-dasharray="3.2 0.35"/>
<path d="M1387.6 1047.0 C1404.7 1044.3 1466.3 1036.0 1490.0 1031.0 C1513.7 1026.0 1516.7 1020.0 1530.0 1017.0 C1543.3 1014.0 1553.6 1013.7 1570.0 1013.0 C1586.4 1012.3 1618.8 1013.0 1628.6 1013.0" fill="none" stroke="rgb(55,0,205)" stroke-width="4" stroke-linecap="butt" stroke-linejoin="round" stroke-dasharray="3.2 0.35"/>
<path d="M1387.6 1049.0 C1398.0 1049.5 1429.6 1052.3 1450.0 1052.0 C1470.4 1051.7 1491.7 1048.3 1510.0 1047.0 C1528.3 1045.7 1540.2 1044.3 1560.0 1044.0 C1579.8 1043.7 1617.2 1044.8 1628.6 1045.0" fill="none" stroke="rgb(30,0,230)" stroke-width="4" stroke-linecap="butt" stroke-linejoin="round" stroke-dasharray="3.2 0.35"/>
<path d="M1387.6 1069.0 C1401.3 1068.3 1446.3 1067.7 1470.0 1065.0 C1493.7 1062.3 1513.3 1056.0 1530.0 1053.0 C1546.7 1050.0 1553.6 1048.3 1570.0 1047.0 C1586.4 1045.7 1618.8 1045.3 1628.6 1045.0" fill="none" stroke="rgb(110,0,150)" stroke-width="4" stroke-linecap="butt" stroke-linejoin="round" stroke-dasharray="3.2 0.35"/>
<path d="M1387.6 1090.0 C1403.0 1088.5 1454.6 1084.0 1480.0 1081.0 C1505.4 1078.0 1523.3 1072.3 1540.0 1072.0 C1556.7 1071.7 1565.2 1077.0 1580.0 1079.0 C1594.8 1081.0 1620.5 1083.2 1628.6 1084.0" fill="none" stroke="rgb(185,0,75)" stroke-width="4" stroke-linecap="butt" stroke-linejoin="round" stroke-dasharray="3.2 0.35"/>
<path d="M1387.6 1098.4 C1401.3 1097.8 1444.6 1096.7 1470.0 1095.0 C1495.4 1093.3 1513.6 1087.8 1540.0 1088.0 C1566.4 1088.2 1613.8 1094.7 1628.6 1096.0" fill="none" stroke="rgb(110,0,150)" stroke-width="4" stroke-linecap="butt" stroke-linejoin="round" stroke-dasharray="3.2 0.35"/>
<path d="M1387.6 1102.0 C1403.0 1101.3 1456.3 1100.2 1480.0 1098.0 C1503.7 1095.8 1515.0 1090.3 1530.0 1089.0 C1545.0 1087.7 1553.6 1088.8 1570.0 1090.0 C1586.4 1091.2 1618.8 1095.0 1628.6 1096.0" fill="none" stroke="rgb(90,0,170)" stroke-width="4" stroke-linecap="butt" stroke-linejoin="round" stroke-dasharray="3.2 0.35"/>
</g>
<path d="M1733.0 335.0 L1750.0 338.0 L1758.0 342.0 L1768.0 349.0 L1780.0 353.0 L1810.0 355.6 L1840.0 358.0 L1896.0 362.0 L1860.0 366.0 L1780.0 374.0 L1880.0 381.0 L1940.0 383.4 L1920.0 385.0 L1840.0 391.0 L1780.0 396.0 L1810.0 400.0 L1840.0 405.6 L1800.0 406.0 L1770.0 412.0 L1754.0 422.0 L1736.0 425.0 L1734.0 430.0 L1736.0 435.0 L1760.0 442.0 L1800.0 448.0 L1856.0 451.4 L1824.0 456.0 L1832.0 460.0 L1824.0 468.0 L1900.0 479.0 L1820.0 482.0 L1760.0 488.0 L1736.0 492.0 L1734.0 498.0 L1738.0 503.0 L1750.0 520.0 L1770.0 534.0 L1820.0 542.0 L1940.0 547.0 L1840.0 552.0 L1780.0 555.0 L1736.0 558.0 L1734.4 601.0 L1734.4 800.0 L1735.0 816.0 L1744.0 819.0 L1900.0 821.0 L2020.0 827.0 L1920.0 830.0 L1760.0 837.0 L1920.0 839.0 L2000.0 841.0 L2048.0 845.6 L1920.0 848.0 L1820.0 848.0 L1840.0 853.0 L1868.0 858.0 L1850.0 863.0 L1780.0 868.0 L1920.0 870.0 L2142.0 876.0 L2000.0 879.0 L1820.0 882.0 L1928.0 886.0 L1860.0 892.0 L1790.0 899.0 L1820.0 906.0 L1840.0 910.0 L1800.0 914.0 L1780.0 922.0 L1736.0 927.0 L1736.0 930.0 L1760.0 938.0 L1820.0 946.0 L1810.0 952.0 L1780.0 958.0 L1752.0 974.0 L1780.0 984.0 L1880.0 990.0 L1992.0 993.0 L1840.0 997.0 L1830.0 999.0 L1900.0 1003.0 L1820.0 1012.0 L1816.0 1014.0 L1886.0 1021.0 L1810.0 1023.0 L1834.0 1028.0 L1796.0 1038.0 L1780.0 1041.0 L1976.0 1046.0 L1920.0 1052.0 L1790.0 1058.0 L1966.0 1064.0 L1756.0 1070.0 L1930.0 1076.0 L1968.0 1082.4 L1916.0 1086.0 L1870.0 1091.0 L2008.0 1095.0 L1920.0 1099.6 L1860.0 1102.4 L1820.0 1105.0 L1790.0 1108.0 L1770.0 1112.0 L1756.0 1118.0 L1748.0 1126.0 L1742.0 1136.0 L1739.0 1148.0 L1737.0 1160.0 L1735.6 1174.0" fill="none" stroke="#000" stroke-width="5.0" stroke-linejoin="round" stroke-linecap="round"/>
<path d="M1733.0 335.0 L1750.0 338.0 L1760.0 344.0 L1780.0 353.0 L1840.0 358.0 L1884.0 362.0 L1850.0 366.0 L1780.0 374.0 L1860.0 381.0 L1922.0 383.4 L1900.0 385.6 L1840.0 391.0 L1780.0 396.0 L1800.0 399.0 L1830.0 405.6 L1790.0 407.0 L1770.0 412.0 L1754.0 422.0 L1736.0 425.0 L1734.0 430.0 L1736.0 435.0 L1760.0 442.0 L1800.0 448.0 L1842.0 451.4 L1812.0 453.0 L1814.0 458.0 L1812.0 464.0 L1816.0 470.0 L1840.0 476.0 L1884.0 479.0 L1820.0 482.0 L1760.0 488.0 L1736.0 492.0 L1734.0 498.0 L1738.0 503.0 L1746.0 518.0 L1760.0 534.0 L1810.0 543.0 L1940.0 547.0 L1840.0 552.0 L1780.0 555.0 L1736.0 558.0 L1734.4 601.0 L1734.4 800.0 L1735.0 820.0 L1736.0 860.0 L1734.0 900.0 L1736.0 930.0 L1742.0 946.0 L1736.0 972.0 L1764.0 993.0 L1746.0 1000.0 L1750.0 1020.0 L1740.0 1042.0 L1754.0 1048.0 L1738.0 1058.0 L1754.0 1066.0 L1735.0 1072.0 L1742.0 1096.0 L1738.0 1104.0 L1735.0 1140.0 L1734.0 1174.0" fill="none" stroke="#1f77b4" stroke-width="3.7" stroke-linejoin="round" stroke-linecap="round"/>
<path d="M1735.0 335.0 L1737.0 338.0 L1738.0 353.0 L1750.0 362.0 L1738.0 374.0 L1754.0 383.0 L1739.0 394.0 L1748.0 404.0 L1738.0 416.0 L1735.0 424.0 L1735.0 434.0 L1736.0 438.0 L1750.0 450.0 L1745.0 454.0 L1748.0 470.0 L1762.0 479.0 L1738.0 488.0 L1735.0 495.0 L1738.0 510.0 L1739.0 530.0 L1750.0 543.0 L1773.0 547.0 L1740.0 555.0 L1735.0 558.0 L1734.4 601.0 L1734.4 800.0 L1735.0 816.0 L1740.0 819.0 L1880.0 821.0 L1994.0 827.0 L1900.0 830.0 L1744.0 836.0 L1900.0 839.0 L2004.0 845.6 L1900.0 848.0 L1806.0 848.0 L1820.0 852.0 L1850.0 858.0 L1810.0 863.0 L1766.0 868.0 L1900.0 870.4 L2032.0 876.0 L1960.0 879.0 L1818.0 882.0 L1890.0 886.0 L1840.0 891.0 L1778.0 898.0 L1810.0 906.0 L1838.0 910.0 L1804.0 912.0 L1780.0 922.0 L1736.0 927.0 L1736.0 930.0 L1760.0 938.0 L1816.0 945.0 L1806.0 949.0 L1780.0 958.0 L1746.0 975.0 L1780.0 984.0 L1880.0 990.0 L1954.0 993.0 L1830.0 997.0 L1826.0 999.0 L1880.0 1003.0 L1806.0 1012.0 L1812.0 1016.0 L1866.0 1021.0 L1798.0 1024.0 L1820.0 1028.0 L1770.0 1040.0 L1914.0 1046.0 L1880.0 1050.0 L1790.0 1058.0 L1918.0 1064.0 L1750.0 1070.0 L1814.0 1082.0 L1800.0 1086.0 L1788.0 1092.0 L1850.0 1096.0 L1800.0 1099.0 L1770.0 1103.0 L1754.0 1110.0 L1744.0 1120.0 L1739.0 1134.0 L1737.0 1150.0 L1735.6 1174.0" fill="none" stroke="#ff7f0e" stroke-width="3.7" stroke-linejoin="round" stroke-linecap="round"/>
<path d="M1734.4 335.0 L1734.4 601.0 L1734.4 800.0 L1736.0 816.0 L1760.0 826.0 L1736.0 838.0 L1784.0 842.0 L1746.0 850.0 L1750.0 860.0 L1739.0 870.0 L1842.0 875.0 L1752.0 882.0 L1770.0 886.0 L1740.0 898.0 L1735.0 912.0 L1734.0 940.0 L1736.0 980.0 L1743.0 993.0 L1736.0 1010.0 L1740.0 1020.0 L1738.0 1040.0 L1774.0 1045.0 L1742.0 1058.0 L1766.0 1067.0 L1744.0 1070.0 L1860.0 1076.0 L1884.0 1082.0 L1848.0 1086.0 L1814.0 1092.0 L1886.0 1095.0 L1820.0 1099.0 L1780.0 1103.0 L1758.0 1109.0 L1746.0 1118.0 L1740.0 1130.0 L1737.0 1150.0 L1735.2 1174.0" fill="none" stroke="#2ca02c" stroke-width="3.7" stroke-linejoin="round" stroke-linecap="round"/>
<rect x="1934.6" y="319.4" width="202.8" height="278" fill="#fff" stroke="#000" stroke-width="2"/>
<line x1="1953" y1="360.4" x2="1983" y2="360.4" stroke="#000" stroke-width="5.0"/>
<line x1="1953" y1="423.0" x2="1983" y2="423.0" stroke="#1f77b4" stroke-width="3.9"/>
<line x1="1953" y1="485.6" x2="1983" y2="485.6" stroke="#ff7f0e" stroke-width="3.9"/>
<line x1="1953" y1="548.2" x2="1983" y2="548.2" stroke="#2ca02c" stroke-width="3.9"/>
<rect x="302.0" y="295.2" width="1390.0" height="923.8" fill="none" stroke="#000" stroke-width="4"/>
<line x1="302.0" y1="1172.0" x2="322.0" y2="1172.0" stroke="#000" stroke-width="4"/>
<line x1="1692.0" y1="1172.0" x2="1672.0" y2="1172.0" stroke="#000" stroke-width="4"/>
<line x1="302.0" y1="926.7" x2="322.0" y2="926.7" stroke="#000" stroke-width="4"/>
<line x1="1692.0" y1="926.7" x2="1672.0" y2="926.7" stroke="#000" stroke-width="4"/>
<line x1="302.0" y1="681.3" x2="322.0" y2="681.3" stroke="#000" stroke-width="4"/>
<line x1="1692.0" y1="681.3" x2="1672.0" y2="681.3" stroke="#000" stroke-width="4"/>
<line x1="302.0" y1="436.0" x2="322.0" y2="436.0" stroke="#000" stroke-width="4"/>
<line x1="1692.0" y1="436.0" x2="1672.0" y2="436.0" stroke="#000" stroke-width="4"/>
<rect x="1714.0" y="295.2" width="447.5" height="923.8" fill="none" stroke="#000" stroke-width="4"/>
<line x1="1714.0" y1="1172.0" x2="1734.0" y2="1172.0" stroke="#000" stroke-width="4"/>
<line x1="2161.5" y1="1172.0" x2="2141.5" y2="1172.0" stroke="#000" stroke-width="4"/>
<line x1="1714.0" y1="926.7" x2="1734.0" y2="926.7" stroke="#000" stroke-width="4"/>
<line x1="2161.5" y1="926.7" x2="2141.5" y2="926.7" stroke="#000" stroke-width="4"/>
<line x1="1714.0" y1="681.3" x2="1734.0" y2="681.3" stroke="#000" stroke-width="4"/>
<line x1="2161.5" y1="681.3" x2="2141.5" y2="681.3" stroke="#000" stroke-width="4"/>
<line x1="1714.0" y1="436.0" x2="1734.0" y2="436.0" stroke="#000" stroke-width="4"/>
<line x1="2161.5" y1="436.0" x2="2141.5" y2="436.0" stroke="#000" stroke-width="4"/>
<line x1="366.0" y1="1219.0" x2="366.0" y2="1199.0" stroke="#000" stroke-width="4"/>
<line x1="366.0" y1="295.2" x2="366.0" y2="315.2" stroke="#000" stroke-width="4"/>
<line x1="565.0" y1="1219.0" x2="565.0" y2="1199.0" stroke="#000" stroke-width="4"/>
<line x1="565.0" y1="295.2" x2="565.0" y2="315.2" stroke="#000" stroke-width="4"/>
<line x1="660.0" y1="1219.0" x2="660.0" y2="1199.0" stroke="#000" stroke-width="4"/>
<line x1="660.0" y1="295.2" x2="660.0" y2="315.2" stroke="#000" stroke-width="4"/>
<line x1="801.0" y1="1219.0" x2="801.0" y2="1199.0" stroke="#000" stroke-width="4"/>
<line x1="801.0" y1="295.2" x2="801.0" y2="315.2" stroke="#000" stroke-width="4"/>
<line x1="960.0" y1="1219.0" x2="960.0" y2="1199.0" stroke="#000" stroke-width="4"/>
<line x1="960.0" y1="295.2" x2="960.0" y2="315.2" stroke="#000" stroke-width="4"/>
<line x1="1106.0" y1="1219.0" x2="1106.0" y2="1199.0" stroke="#000" stroke-width="4"/>
<line x1="1106.0" y1="295.2" x2="1106.0" y2="315.2" stroke="#000" stroke-width="4"/>
<line x1="1209.0" y1="1219.0" x2="1209.0" y2="1199.0" stroke="#000" stroke-width="4"/>
<line x1="1209.0" y1="295.2" x2="1209.0" y2="315.2" stroke="#000" stroke-width="4"/>
<line x1="1387.5" y1="1219.0" x2="1387.5" y2="1199.0" stroke="#000" stroke-width="4"/>
<line x1="1387.5" y1="295.2" x2="1387.5" y2="315.2" stroke="#000" stroke-width="4"/>
<line x1="1484.0" y1="1219.0" x2="1484.0" y2="1199.0" stroke="#000" stroke-width="4"/>
<line x1="1484.0" y1="295.2" x2="1484.0" y2="315.2" stroke="#000" stroke-width="4"/>
<line x1="1629.0" y1="1219.0" x2="1629.0" y2="1199.0" stroke="#000" stroke-width="4"/>
<line x1="1629.0" y1="295.2" x2="1629.0" y2="315.2" stroke="#000" stroke-width="4"/>
<line x1="1735.0" y1="1219.0" x2="1735.0" y2="1199.0" stroke="#000" stroke-width="4"/>
<line x1="1735.0" y1="295.2" x2="1735.0" y2="315.2" stroke="#000" stroke-width="4"/>
<line x1="1950.0" y1="1219.0" x2="1950.0" y2="1199.0" stroke="#000" stroke-width="4"/>
<line x1="1950.0" y1="295.2" x2="1950.0" y2="315.2" stroke="#000" stroke-width="4"/>
<line x1="304" y1="1172.5" x2="324" y2="1172.5" stroke="rgb(128,128,128)" stroke-opacity="0.8" stroke-width="2.8"/>
<line x1="1670" y1="1172.5" x2="1690" y2="1172.5" stroke="rgb(128,128,128)" stroke-opacity="0.8" stroke-width="2.8"/>
<text x="426.5" y="98.2" font-size="50.7" text-anchor="start" textLength="457.5" lengthAdjust="spacingAndGlyphs">Participation Ratio</text>
<text x="336.0" y="168.9" font-size="51.8" text-anchor="start" textLength="107.6" lengthAdjust="spacingAndGlyphs">0.25</text>
<text x="539.5" y="168.9" font-size="51.8" text-anchor="start" textLength="108.7" lengthAdjust="spacingAndGlyphs">0.50</text>
<text x="743.5" y="168.9" font-size="51.8" text-anchor="start" textLength="109.2" lengthAdjust="spacingAndGlyphs">0.75</text>
<text x="947.5" y="168.9" font-size="51.8" text-anchor="start" textLength="110.1" lengthAdjust="spacingAndGlyphs">1.00</text>
<text x="163.2" y="458.3" font-size="62.5" text-anchor="start" textLength="108.9" lengthAdjust="spacingAndGlyphs">300</text>
<text x="162.2" y="705.3" font-size="62.4" text-anchor="start" textLength="109.9" lengthAdjust="spacingAndGlyphs">200</text>
<text x="163.3" y="949.7" font-size="62.8" text-anchor="start" textLength="108.7" lengthAdjust="spacingAndGlyphs">100</text>
<text x="238.4" y="1194.7" font-size="61.8" text-anchor="start" textLength="34.2" lengthAdjust="spacingAndGlyphs">0</text>
<text x="348.5" y="1293.0" font-size="63.0" text-anchor="start" textLength="35.1" lengthAdjust="spacingAndGlyphs">Γ</text>
<text x="545.5" y="1293.0" font-size="63.0" text-anchor="start" textLength="38.9" lengthAdjust="spacingAndGlyphs">X</text>
<text x="645.0" y="1294.3" font-size="63.0" text-anchor="start" textLength="35.6" lengthAdjust="spacingAndGlyphs">P</text>
<text x="783.0" y="1293.0" font-size="63.0" text-anchor="start" textLength="42.3" lengthAdjust="spacingAndGlyphs">N</text>
<text x="944.5" y="1293.0" font-size="63.0" text-anchor="start" textLength="33.6" lengthAdjust="spacingAndGlyphs">Γ</text>
<text x="1085.5" y="1293.0" font-size="63.0" text-anchor="start" textLength="48.1" lengthAdjust="spacingAndGlyphs">M</text>
<text x="1605.5" y="1293.0" font-size="63.0" text-anchor="start" textLength="52.2" lengthAdjust="spacingAndGlyphs">M</text>
<text x="1670.0" y="1293.0" font-size="61.9" text-anchor="start" textLength="127.4" lengthAdjust="spacingAndGlyphs">0.00</text>
<text x="1886.0" y="1293.0" font-size="61.9" text-anchor="start" textLength="127.9" lengthAdjust="spacingAndGlyphs">0.25</text>
<text x="2000.0" y="379.0" font-size="50.7" text-anchor="start" textLength="116.5" lengthAdjust="spacingAndGlyphs">Total</text>
<text x="2002.0" y="441.0" font-size="50.7" text-anchor="start" textLength="45.7" lengthAdjust="spacingAndGlyphs">Al</text>
<text x="2000.0" y="504.0" font-size="50.5" text-anchor="start" textLength="52.0" lengthAdjust="spacingAndGlyphs">Te</text>
<text x="2000.0" y="567.0" font-size="51.7" text-anchor="start" textLength="68.4" lengthAdjust="spacingAndGlyphs">Hg</text>
<text x="1786.0" y="1384.6" font-size="65.1" text-anchor="start" textLength="302.8" lengthAdjust="spacingAndGlyphs">DOS (a.u.)</text>
<text x="1163.0" y="1280.0" font-size="44.7" text-anchor="start" textLength="25.1" lengthAdjust="spacingAndGlyphs">S</text>
<text x="1190.0" y="1306.0" font-size="65.9" text-anchor="start" textLength="20.5" lengthAdjust="spacingAndGlyphs">/</text>
<text x="1212.0" y="1311.0" font-size="44.2" text-anchor="start" textLength="26.6" lengthAdjust="spacingAndGlyphs">S</text>
<text x="1236.5" y="1317.5" font-size="30.0" text-anchor="start" textLength="18.5" lengthAdjust="spacingAndGlyphs">0</text>
<text x="1350.0" y="1280.0" font-size="44.2" text-anchor="start" textLength="25.0" lengthAdjust="spacingAndGlyphs">Γ</text>
<text x="1375.0" y="1306.0" font-size="67.6" text-anchor="start" textLength="20.5" lengthAdjust="spacingAndGlyphs">/</text>
<text x="1397.0" y="1311.0" font-size="44.0" text-anchor="start" textLength="28.3" lengthAdjust="spacingAndGlyphs">X</text>
<text x="1444.0" y="1280.0" font-size="43.1" text-anchor="start" textLength="29.7" lengthAdjust="spacingAndGlyphs">R</text>
<text x="1474.0" y="1306.0" font-size="67.6" text-anchor="start" textLength="19.4" lengthAdjust="spacingAndGlyphs">/</text>
<text x="1493.0" y="1312.0" font-size="44.2" text-anchor="start" textLength="34.4" lengthAdjust="spacingAndGlyphs">G</text>
<g transform="translate(111.5,1016.4) rotate(-90)"><text x="0.0" y="0.0" font-size="63.9" text-anchor="start" textLength="436.0" lengthAdjust="spacingAndGlyphs">Frequency (cm</text><text x="438.8" y="-22.1" font-size="43.0" text-anchor="start" textLength="56.9" lengthAdjust="spacingAndGlyphs">−1</text><text x="503.3" y="-3.8" font-size="55.5" text-anchor="start" textLength="18.0" lengthAdjust="spacingAndGlyphs">)</text></g>
</svg></body></html>
